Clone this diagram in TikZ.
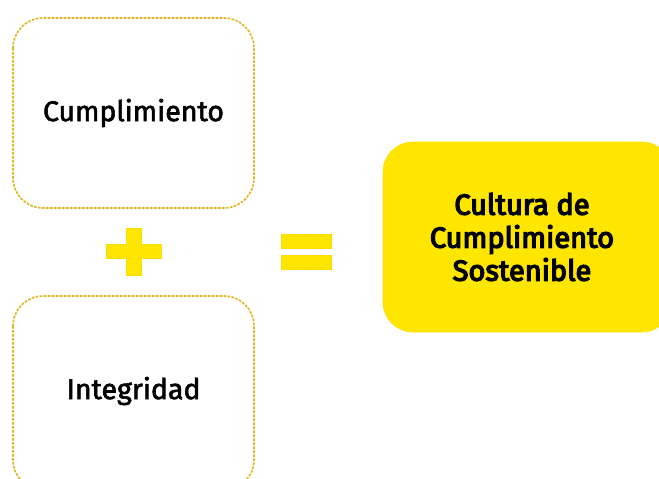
\documentclass[tikz,border=0pt]{standalone}
\usepackage{fontspec}
\setmainfont{Fira Sans}
\newcommand\heavytext[2]{\special{pdf:literal direct 2 Tr #1 w}#2\special{pdf:literal direct 0 Tr}}
\definecolor{eyyellow}{HTML}{FFE600}
\definecolor{dashgold}{HTML}{E0B41A}
\begin{document}
\begin{tikzpicture}[x=1pt,y=-1pt,
  dashbox/.style={draw=dashgold, line width=1.6pt, dash pattern=on 2.7pt off 1.3pt, rounded corners=30pt, fill=white},
  opbar/.style={fill=eyyellow, draw=eyyellow!90!orange, line width=0.4pt},
  lbl/.style={font=\fontsize{28.5}{32}\selectfont, text=black}]
\useasboundingbox (0,0) rectangle (659,479);
\clip (0,0) rectangle (659,479);
\fill[white] (0,0) rectangle (659,479);
% boxes
\draw[dashbox] (13,18) rectangle (254,208);
\node[lbl] (cump) at (133.5,113) {\heavytext{0.6}{Cumplimiento}};
\draw[dashbox] (13,296) rectangle (254,490);
\node[lbl] (integ) at (133.5,391) {\heavytext{0.6}{Integridad}};
% plus
\draw[opbar] (126,228) rectangle (141,275);
\draw[opbar] (106,244) rectangle (161,258);
\fill[eyyellow] (126.3,244.3) rectangle (140.7,257.7);
% equals
\draw[opbar] (281,234) rectangle (331,248);
\draw[opbar] (281,255) rectangle (331,269);
% result box
\draw[fill=eyyellow, draw=eyyellow!92!orange, line width=0.6pt, rounded corners=30pt] (383,142) rectangle (672,332);
\node[font=\fontsize{29}{33}\selectfont, align=center, text=black] (res) at (522,237) {\heavytext{1.3}{Cultura de}\\\heavytext{1.3}{Cumplimiento}\\\heavytext{1.3}{Sostenible}};
\end{tikzpicture}
\end{document}
